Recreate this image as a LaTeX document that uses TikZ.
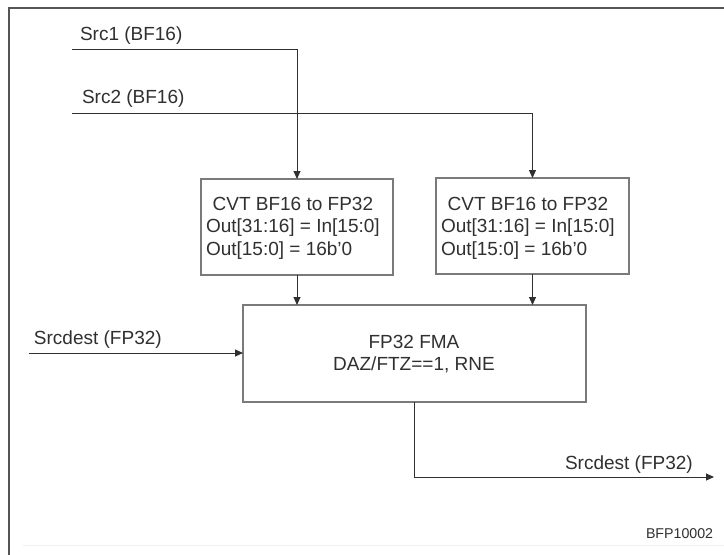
\documentclass[tikz,border=0pt]{standalone}
\usepackage{fontspec}
\setmainfont{Liberation Sans}
\usetikzlibrary{arrows.meta}
\definecolor{txt}{HTML}{303030}
\definecolor{wire}{HTML}{303030}
\definecolor{boxc}{HTML}{7A7A7A}
\definecolor{framec}{HTML}{555555}
\tikzset{
  lbl/.style={anchor=base west, inner sep=0pt, outer sep=0pt, text=txt, font=\fontsize{19}{22.5}\selectfont},
  blk/.style={draw=boxc, line width=1.1pt, inner sep=0pt, outer sep=0pt, fill=white},
  wirec/.style={draw=wire, line width=1pt},
  arr/.style={wirec, -{Triangle[length=8pt,width=7pt]}}
}
\begin{document}
\begin{tikzpicture}[x=1pt,y=-1pt]
\useasboundingbox[fill=white] (0,0) rectangle (724,555);
% frame
\draw[framec, line width=2pt] (724,7.5) -- (8.5,7.5) -- (8.5,555);
\draw[black!6, line width=1pt] (23,545) -- (724,545);

% labels
\node[lbl] (l1) at (80,40) {Src1 (BF16)};
\node[lbl] (l2) at (82,103) {Src2 (BF16)};
\node[lbl] (l3) at (34,344) {Srcdest (FP32)};
\node[lbl] (l4) at (565,469) {Srcdest (FP32)};
\node[lbl, font=\fontsize{14.2}{17}\selectfont] (id) at (646,538) {BFP10002};

% boxes
\node[blk, minimum width=192pt, minimum height=96pt] (cvt1) at (297,227) {};
\node[blk, minimum width=193pt, minimum height=96pt] (cvt2) at (532.5,226) {};
\node[blk, minimum width=343pt, minimum height=97pt] (fma) at (414.5,353.5) {};

% box texts
\node[lbl] (t1) at (206,210) {\begin{tabular}[t]{@{}l@{}}\multicolumn{1}{@{}c@{}}{CVT BF16 to FP32}\\Out[31:16] = In[15:0]\\Out[15:0] = 16b'0\end{tabular}};
\node[lbl] (t2) at (441,210) {\begin{tabular}[t]{@{}l@{}}\multicolumn{1}{@{}c@{}}{CVT BF16 to FP32}\\Out[31:16] = In[15:0]\\Out[15:0] = 16b'0\end{tabular}};
\node[lbl, anchor=base] (t3) at (414,348) {\begin{tabular}[t]{@{}c@{}}FP32 FMA\\DAZ/FTZ==1, RNE\end{tabular}};

% wire ends
\coordinate (s1) at (72,49);
\coordinate (s2) at (72,113);
\coordinate (s3) at (29,353);
\coordinate (o1) at (714,477);

% connectors
\draw[arr] (s1) -| (cvt1.north);
\draw[arr] (s2) -| (cvt2.north);
\draw[arr] (cvt1.south) -- (cvt1.south |- fma.north);
\draw[arr] (cvt2.south) -- (cvt2.south |- fma.north);
\draw[arr] (s3) -- (s3 -| fma.west);
\draw[arr] (fma.south) |- (o1);
\end{tikzpicture}
\end{document}
